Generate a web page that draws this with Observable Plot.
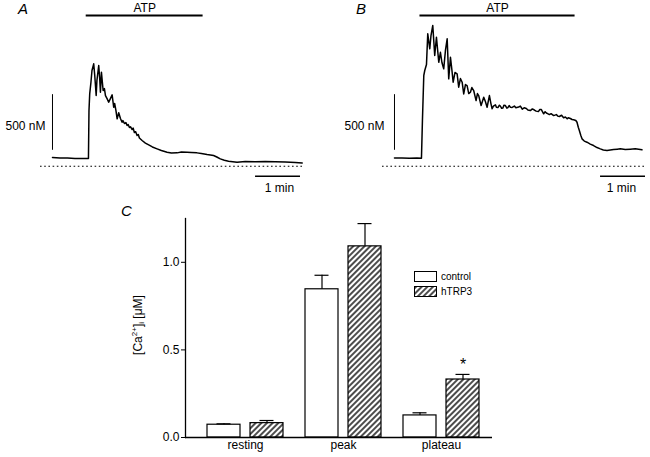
<!DOCTYPE html>
<html><head><meta charset="utf-8">
<script src="https://cdn.jsdelivr.net/npm/d3@7"></script>
<script src="https://cdn.jsdelivr.net/npm/@observablehq/plot@0.6"></script>
<style>
body{margin:0;background:#fff;}
#wrap{position:relative;width:650px;height:457px;overflow:hidden;font-family:"Liberation Sans",Arial,sans-serif;color:#000;background:#fff;}
.abs{position:absolute;}
.letter{font-style:italic;font-size:15px;line-height:15px;}
.leg{font-size:10px;line-height:10px;white-space:nowrap;}
</style></head>
<body><div id="wrap">
<svg width="0" height="0" style="position:absolute"><defs>
<pattern id="hatch" patternUnits="userSpaceOnUse" width="4" height="4" patternTransform="rotate(45)">
<rect width="4" height="4" fill="#fff"/><line x1="2" y1="-1" x2="2" y2="5" stroke="#000" stroke-width="1.4"/>
</pattern></defs></svg>
</div>
<script>
// ---------- Data ----------
// Panel A trace (time s, [Ca2+]i nM)
const timeA = [0,10,20,30,40,48,48.7,49.7,51.3,52.7,55,56.4,58.3,59.3,61.7,63,64,65.3,67.6,69.3,70.7,73,75,77.3,79.6,81.7,83,84.7,86.3,88.4,90.7,92.9,94,96,98,99.6,101,102.7,104,106.3,107.6,109.3,111,112.9,114.5,116,119.6,124,128.4,133.3,139.6,145.3,152.9,158.7,166.3,172,179.6,185.3,192.9,198.7,206.3,210.7,215,219.3,224,229.3,235,246.3,257.3,270.7,284,297.3,310.7,324,333.3];
const caA = [78,74,74,69,69,69,500,653,752,860,920,815,635,770,905,788,665,845,680,698,635,605,575,608,641,530,563,500,426,480,429,395,410,384,392,366,375,348,355,330,343,303,310,276,285,253,231,208,192,173,156,141,126,119,120,128,126,123,120,114,105,101,96,83,66,53,45,36,42,40,42,40,38,33,29];
// Panel B trace
const timeB = [0,10,20,30,36,37.3,39.1,40.4,42.7,44.4,47.1,48.7,51.1,53.7,56,59.1,61.3,63.3,65.7,68,70.3,72.4,74.7,76.7,78.3,80.7,83.6,85.7,88,90.3,92.4,94.7,96.9,99.1,101.3,103.3,105.7,108.9,110.7,112.4,115.6,119.1,121.3,123.6,126.7,128.7,
  130.3,132,134.7,136,138,140,141.3,143,144.7,146,148,150,151.3,153,154.7,157,160,162,165.7,168,170.7,173,176,178,181.3,184,186.7,189,192,194,196,199.1,201,202.7,205,206.7,209,212.4,216,218,220,223,225.7,228,230.7,232,234.7,237,239.1,242,
  243.6,245.3,246.7,248.7,250.3,253.3,256.9,261.3,265.7,270.3,274.7,278.7,283.6,288,292.4,297.3,301.3,308,314.7,321.3,330.3];
const caB = [75,74,72,74,72,411,815,860,914,1190,1055,1174,1265,995,1159,934,1024,932,875,1040,1145,785,979,860,755,842,830,710,788,755,650,734,725,653,665,707,680,590,653,635,545,620,581,530,635,563,
  516,540,552,530,527,548,541,520,523,548,545,522,527,545,530,528,541,525,532,540,512,525,518,505,500,515,505,495,491,510,509,471,490,478,470,464,472,455,464,450,447,458,435,442,426,435,429,420,417,411,
  395,350,321,276,246,226,216,199,186,168,156,146,141,146,150,153,156,150,153,156,147];
// ATP application windows (s)
const atpA = [45, 201];
const atpB = [34, 241];
// scale bars: 1 min time bar (s), 500 nM calibration bar
const minBarA = [271, 331];
const minBarB = [275, 335];
const calStart = 143, calSize = 500;
const atpLabel = "ATP", calLabel = "500 nM", timeLabel = "1 min";

// Panel C
const categories = ["resting", "peak", "plateau"];
const controlMean = [0.073, 0.846, 0.126];
const controlSem  = [0.005, 0.080, 0.015];
const trp3Mean    = [0.082, 1.091, 0.331];
const trp3Sem     = [0.015, 0.130, 0.029];
const trp3Sig     = ["", "", "*"];
const yTicks = [0, 0.5, 1.0];

// ---------- Drawing ----------
const font = '"Liberation Sans", Arial, sans-serif';
const wrap = document.getElementById("wrap");
const xDom = [-16, 335];
const yDom = [-263, 1489];

function trace(time, ca, atp, minBar, calDx, width, marginRight) {
  const data = time.map((t, i) => ({t, c: ca[i]}));
  return Plot.plot({
    width, height: 195, marginLeft: 40, marginRight, marginTop: 0, marginBottom: 0,
    x: {domain: xDom, axis: null},
    y: {domain: yDom, axis: null},
    style: {fontFamily: font, fontSize: "12px", background: "transparent", color: "black", overflow: "visible"},
    marks: [
      Plot.ruleY([0], {x1: xDom[0], x2: xDom[1], strokeDasharray: "1.6,2.6", strokeWidth: 1.2}),
      Plot.ruleX([0], {y1: calStart, y2: calStart + calSize, strokeWidth: 1}),
      Plot.text([calLabel], {x: 0, y: 356, textAnchor: "end", dx: -calDx, fontSize: 12}),
      Plot.line(data, {x: "t", y: "c", strokeWidth: 1.5}),
      Plot.ruleY([1354], {x1: atp[0], x2: atp[1], strokeWidth: 2}),
      Plot.text([atpLabel], {x: (atp[0] + atp[1]) / 2, y: 1421, fontSize: 12}),
      Plot.ruleY([-90], {x1: minBar[0], x2: minBar[1], strokeWidth: 1.5}),
      Plot.text([timeLabel], {x: 303, y: -200, fontSize: 12})
    ]
  });
}

const svgA = trace(timeA, caA, atpA, minBarA, 7, 320, 17);
svgA.style.position = "absolute"; svgA.style.left = "0px"; svgA.style.top = "0px";
wrap.appendChild(svgA);
const svgB = trace(timeB, caB, atpB, minBarB, 10, 308, 5);
svgB.style.position = "absolute"; svgB.style.left = "342px"; svgB.style.top = "0px";
wrap.appendChild(svgB);

const bars = categories.map((cat, i) => ({
  cat, control: controlMean[i], controlSem: controlSem[i],
  trp: trp3Mean[i], trpSem: trp3Sem[i], sig: trp3Sig[i]
}));

const svgC = Plot.plot({
  width: 650, height: 262, marginLeft: 185, marginRight: 158, marginTop: 23, marginBottom: 20,
  x: {domain: categories, paddingInner: 0.222, paddingOuter: 0.1616, align: 0.625, label: null},
  y: {domain: [0, 1.25], label: null},
  style: {fontFamily: font, fontSize: "12px", background: "transparent", color: "black", overflow: "visible"},
  marks: [
    Plot.axisY({ticks: yTicks, tickFormat: d3.format(".1f"), tickSize: 4, tickPadding: 2, label: null, fontSize: 12}),
    Plot.axisX({tickSize: 0, tickPadding: 3, label: null, fontSize: 12}),
    Plot.frame({anchor: "left", strokeWidth: 1.3}),
    Plot.barY(bars, {x: "cat", y: "control", fill: "white", stroke: "black", strokeWidth: 1.2, insetRight: 43}),
    Plot.barY(bars, {x: "cat", y: "trp", fill: "url(#hatch)", stroke: "black", strokeWidth: 1.2, insetLeft: 43}),
    Plot.ruleX(bars, {x: "cat", y1: "control", y2: d => d.control + d.controlSem, dx: -21.5, strokeWidth: 1.2}),
    Plot.ruleX(bars, {x: "cat", y1: "trp", y2: d => d.trp + d.trpSem, dx: 21.5, strokeWidth: 1.2}),
    Plot.tickY(bars, {x: "cat", y: d => d.control + d.controlSem, insetLeft: 9.5, insetRight: 52.5, strokeWidth: 1.2}),
    Plot.tickY(bars, {x: "cat", y: d => d.trp + d.trpSem, insetLeft: 52.5, insetRight: 9.5, strokeWidth: 1.2}),
    Plot.text(bars, {x: "cat", y: d => d.trp + d.trpSem, text: "sig", dx: 21.5, dy: -10, fontSize: 16}),
    Plot.ruleY([0], {strokeWidth: 1.3})
  ]
});
svgC.style.position = "absolute"; svgC.style.left = "0px"; svgC.style.top = "195px";
wrap.appendChild(svgC);

// ---------- Text overlays ----------
function div(html, css, cls) {
  const d = document.createElement("div");
  d.className = "abs " + (cls || "");
  d.innerHTML = html;
  Object.assign(d.style, css);
  wrap.appendChild(d);
  return d;
}
div("A", {left: "18px", top: "1px"}, "letter");
div("B", {left: "356px", top: "1px"}, "letter");
div("C", {left: "121px", top: "203px"}, "letter");
div('[Ca<sup style="font-size:8px;vertical-align:5px;line-height:0">2+</sup>]<sub style="font-size:8px;vertical-align:-2px;line-height:0">i</sub> [μM]',
  {left: "138px", top: "325px", fontSize: "12px", lineHeight: "12px", whiteSpace: "nowrap", transform: "translate(-50%,-50%) rotate(-90deg)"});

const legendItems = [["control", "#fff"], ["hTRP3", "url(#hatch)"]];
legendItems.forEach(([name, fill], i) => {
  const top = 271 + i * 15;
  div(`<svg width="23" height="11" style="display:block"><rect x="0.5" y="0.5" width="22" height="10" fill="${fill}" stroke="#000" stroke-width="1"/></svg>`,
    {left: "414px", top: top + "px"});
  div(name, {left: "441px", top: (top + 1) + "px"}, "leg");
});
</script>
</body></html>
